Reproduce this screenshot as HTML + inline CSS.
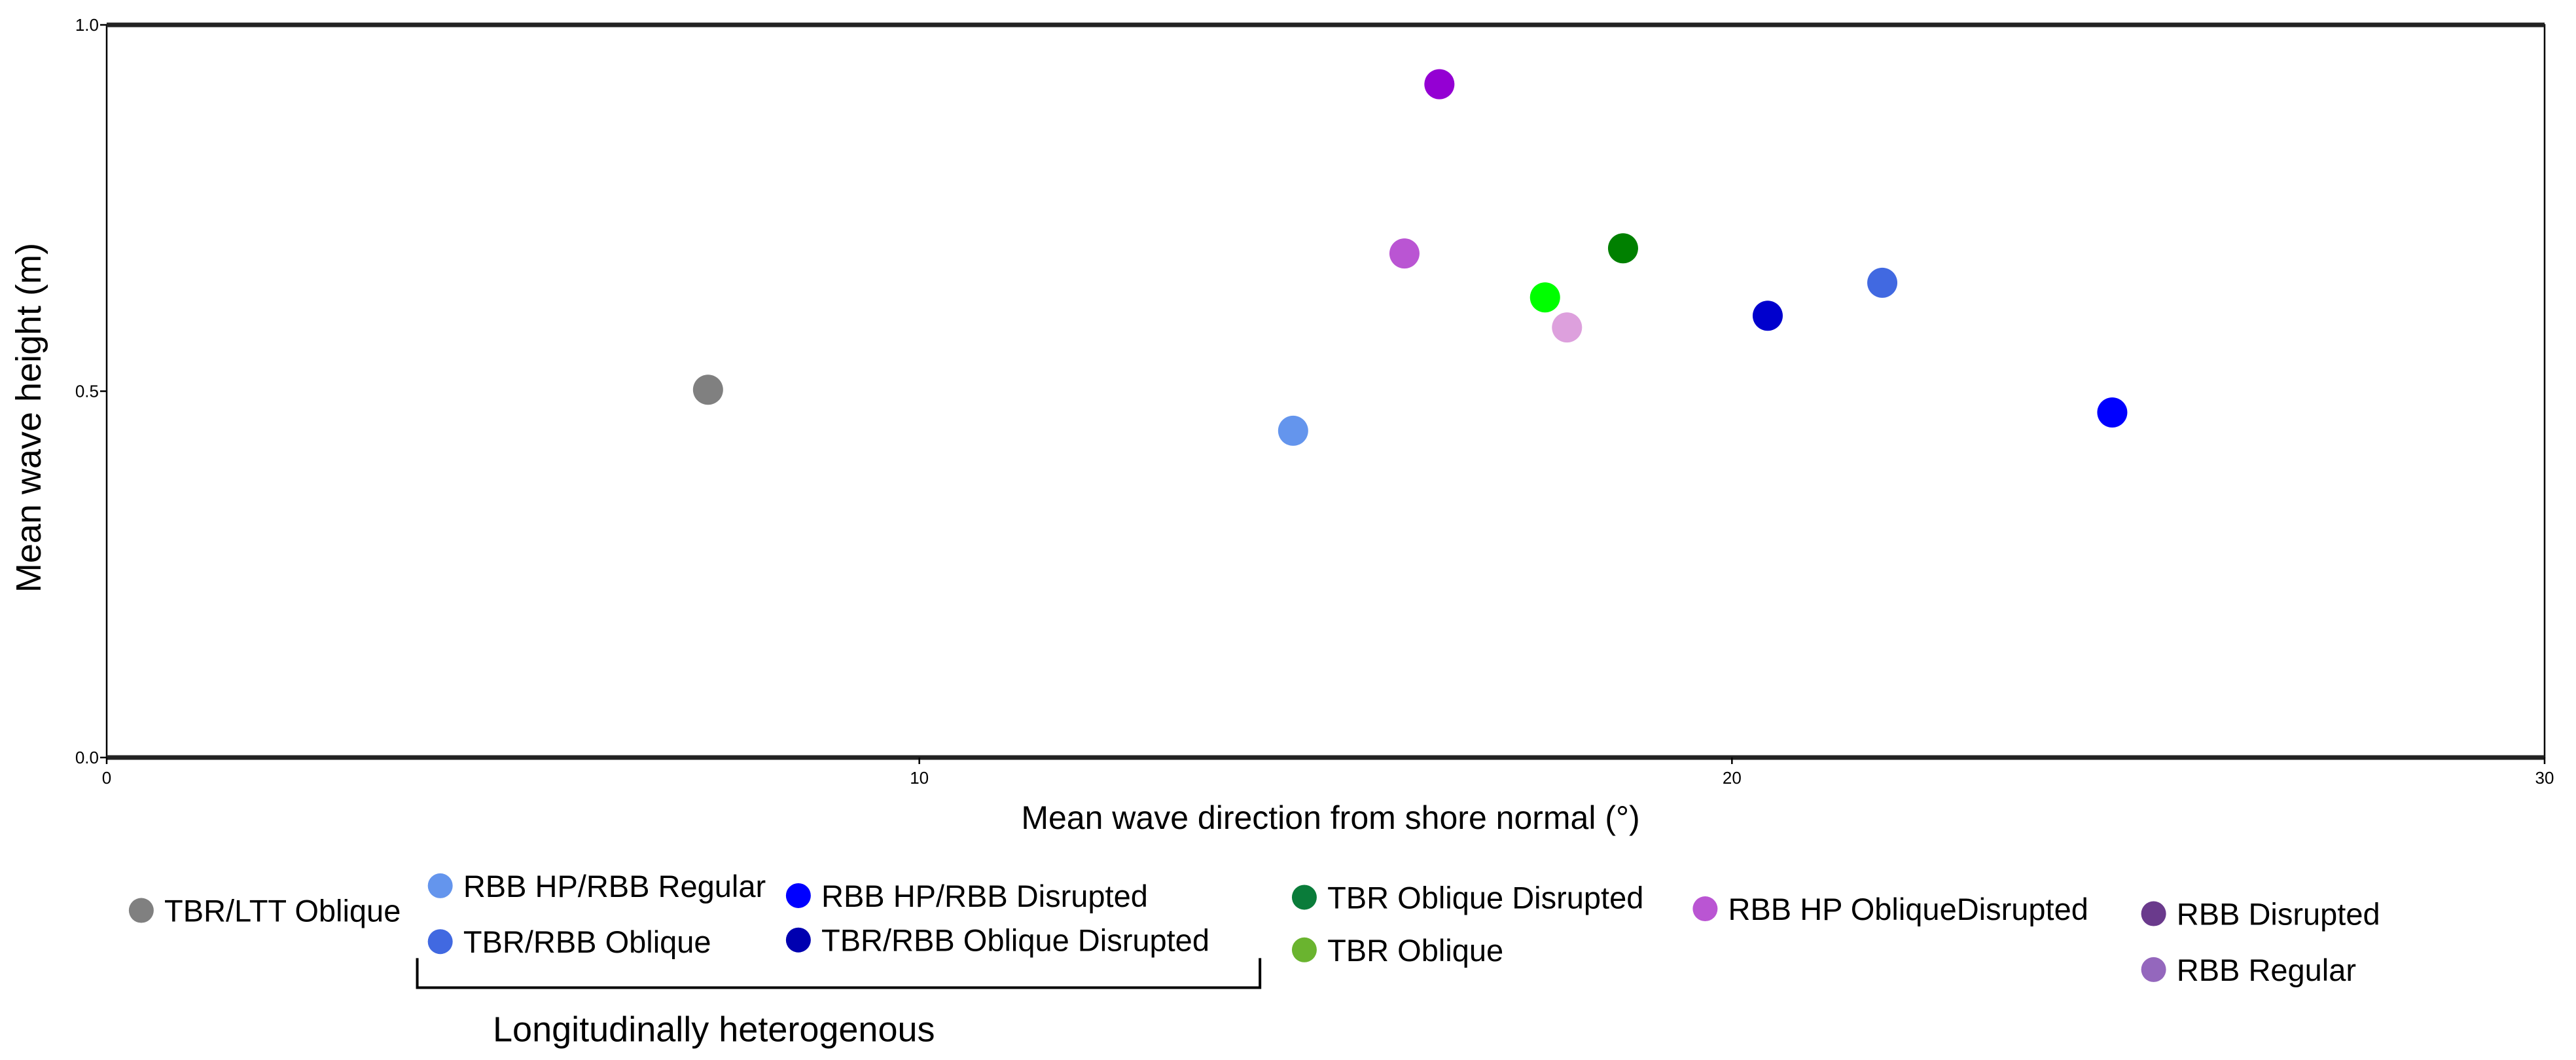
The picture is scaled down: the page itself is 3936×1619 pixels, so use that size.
<!DOCTYPE html>
<html><head><meta charset="utf-8"><style>
html,body{margin:0;padding:0;background:#fff;}
svg{display:block;font-family:"Liberation Sans",sans-serif;}
</style></head><body>
<svg id="chart" width="3936" height="1619" viewBox="0 0 3936 1619">
<g id="plot"></g>
<g id="legend"></g>
</svg>
<script>
const categories=["TBR/LTT Oblique","RBB HP/RBB Regular","Dark violet","RBB HP Oblique","Lime","Plum","TBR Oblique Disrupted","TBR/RBB Oblique Disrupted","TBR/RBB Oblique","RBB HP/RBB Disrupted"];
const xValues=[7.4,14.6,16.4,15.97,17.7,17.97,18.66,20.44,21.85,24.68];
const yValues=[0.502,0.446,0.919,0.688,0.628,0.587,0.695,0.603,0.648,0.471];
const pointColors=["#808080","#6495ED","#9400D3","#BA55D3","#00FF00","#DDA0DD","#008000","#0000CD","#4169E1","#0000FF"];
const xTicks=[0,10,20,30];
const yTicks=[0.0,0.5,1.0];
const legendLabels=["TBR/LTT Oblique","RBB HP/RBB Regular","TBR/RBB Oblique","RBB HP/RBB Disrupted","TBR/RBB Oblique Disrupted","TBR Oblique Disrupted","TBR Oblique","RBB HP ObliqueDisrupted","RBB Disrupted","RBB Regular"];
const legendColors=["#808080","#6495ED","#4169E1","#0000FF","#0000B0","#0A7C3A","#6AB42F","#BA55D3","#6A3A8C","#9467BD"];

const NS="http://www.w3.org/2000/svg";
const L=163,R=3888,T=38,B=1157;
const xs=v=>L+(v-0)/(30-0)*(R-L);
const ys=v=>B-(v-0)/(1-0)*(B-T);
function mk(tag,attrs,parent,text){const e=document.createElementNS(NS,tag);for(const k in attrs)e.setAttribute(k,attrs[k]);if(text!==undefined)e.textContent=text;parent.appendChild(e);return e;}
const plot=document.getElementById('plot');
let f=mk('rect',{x:L,y:T,width:R-L,height:B-T,fill:'none',stroke:'#000','stroke-width':2.5},plot);


let tl=mk('line',{x1:L,x2:R,y1:T,y2:T,stroke:'#222','stroke-width':7},plot);


let bl=mk('line',{x1:L,x2:R,y1:B,y2:B,stroke:'#222','stroke-width':7},plot);


xTicks.forEach(t=>{
  const x=xs(t);
  let ln=mk('line',{x1:x,x2:x,y1:B,y2:B+10,stroke:'#000','stroke-width':2.5},plot);
  
  
  let tx=mk('text',{x:x,y:B+40,'font-size':26,'text-anchor':'middle'},plot,String(t));
  
  
});
yTicks.forEach(t=>{
  const y=ys(t);
  let ln=mk('line',{x1:L-10,x2:L,y1:y,y2:y,stroke:'#000','stroke-width':2.5},plot);
  
  
  let tx=mk('text',{x:L-12,y:y+9,'font-size':26,'text-anchor':'end'},plot,t.toFixed(1));
  
  
});
let xt=mk('text',{x:2033,y:1266,'font-size':50,'text-anchor':'middle'},plot,"Mean wave direction from shore normal (°)");


let yt=mk('text',{x:0,y:0,'font-size':54,'text-anchor':'middle',transform:'translate(62,638) rotate(-90)'},plot,"Mean wave height (m)");


xValues.forEach((v,i)=>{
  let c=mk('circle',{cx:xs(v),cy:ys(yValues[i]),r:23,fill:pointColors[i]},plot);
  
  
});
const lg=document.getElementById('legend');
const S=2.51;
const lpos=[[86,554],[268,539],[268,573],[486,545],[486,572],[794,546],[794,578],[1038,553],[1311,556],[1311,590]];
legendLabels.forEach((lab,i)=>{
  const [mx,my]=lpos[i];
  let c=mk('circle',{cx:mx*S,cy:my*S,r:19,fill:legendColors[i]},lg);
  
  
  let t=mk('text',{x:(mx+14)*S,y:my*S+17,'font-size':47},lg,lab);
  
  
});
let br=mk('path',{d:`M${254*S} ${583*S} V${601*S} H${767*S} V${583*S}`,fill:'none',stroke:'#000','stroke-width':4},lg);


let bt=mk('text',{x:300*S,y:626*S+19,'font-size':54},lg,"Longitudinally heterogenous");


</script>
</body></html>
